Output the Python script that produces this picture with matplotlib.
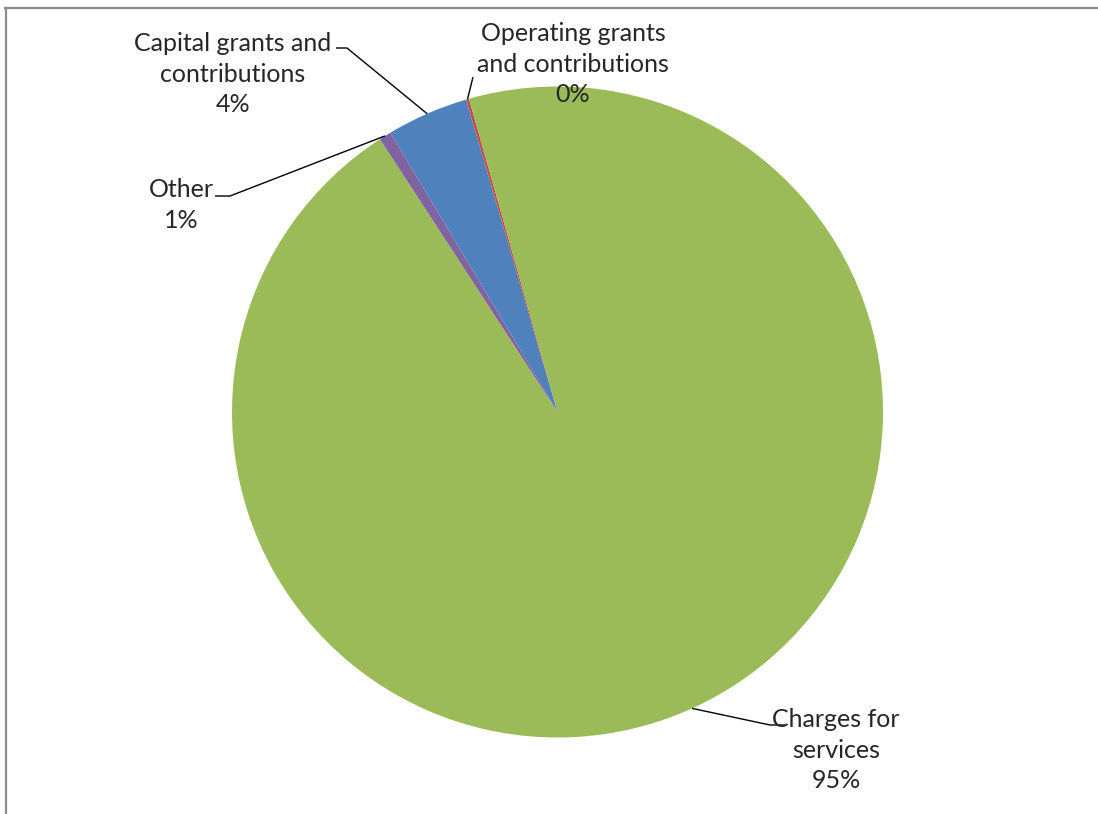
import matplotlib.pyplot as plt
import numpy as np
from matplotlib.lines import Line2D

W, H = 1098, 814

# revenue sources, in data order (first slice starts left of 12 o'clock, clockwise)
categories = [
    "Capital grants and\ncontributions",
    "Operating grants\nand contributions",
    "Charges for\nservices",
    "Other",
]
shares = [4.05, 0.15, 95.2, 0.6]
colors = ["#4F81BD", "#C0504D", "#9BBB59", "#8064A2"]

# label layout in pixel coords (origin top-left)
label_xy = [(233, 74), (573, 64), (836, 750), (181, 205)]
leader_tail = [[(347, 48), (336, 48)], [(473, 77)], [(770, 725), (785, 725)], [(230, 196), (215, 196)]]

CENTER = (557.5, 412)
RADIUS = 325.5
TEXT_COLOR = "#262626"


def px(x, y):
    return x, H - y


plt.rcParams["font.family"] = ["Lato", "DejaVu Sans"]

fig = plt.figure(figsize=(W / 100, H / 100), dpi=100)
ax = fig.add_axes([0, 0, 1, 1])

cx, cy = px(*CENTER)
wedges, _ = ax.pie(
    shares,
    colors=colors,
    startangle=120.9,
    counterclock=False,
    center=(cx, cy),
    radius=RADIUS,
    wedgeprops=dict(linewidth=0),
)
# pie() resets the limits, so put the pixel frame back afterwards
ax.set_xlim(0, W)
ax.set_ylim(0, H)
ax.set_aspect("equal")
ax.axis("off")

for wedge, name, share, (lx, ly), tail in zip(wedges, categories, shares, label_xy, leader_tail):
    mid = np.deg2rad((wedge.theta1 + wedge.theta2) / 2)
    start = (cx + RADIUS * np.cos(mid), cy + RADIUS * np.sin(mid))
    pts = [start] + [px(x, y) for x, y in tail]
    xs, ys = zip(*pts)
    ax.plot(xs, ys, color="#000000", lw=1.0, solid_capstyle="butt")
    ax.text(*px(lx, ly), f"{name}\n{share:.0f}%", ha="center", va="center",
            fontsize=18, linespacing=1.38, color=TEXT_COLOR)

# chart-area border (top and left edges)
fig.add_artist(Line2D([5 / W, 1], [1 - 8 / H, 1 - 8 / H], color="#8c8c8c", lw=1.6,
                      transform=fig.transFigure))
fig.add_artist(Line2D([6 / W, 6 / W], [0, 1 - 8 / H], color="#8c8c8c", lw=1.6,
                      transform=fig.transFigure))

fig.savefig("out.png", dpi=100)
